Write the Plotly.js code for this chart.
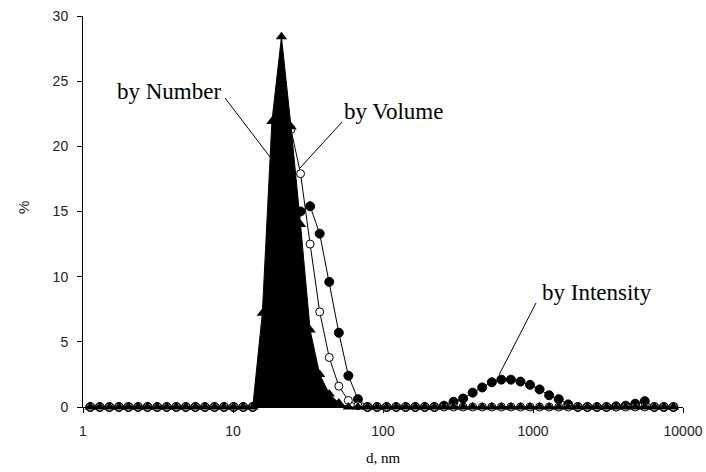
<!DOCTYPE html>
<html>
<head>
<meta charset="utf-8">
<script src="https://cdn.plot.ly/plotly-3.0.1.min.js"></script>
<style>html,body{margin:0;padding:0;background:#fff;}#chart{width:706px;height:472px;}</style>
</head>
<body>
<div id="chart"></div>
<script>
// Size classes (nm)
var sizes = [1.117, 1.294, 1.499, 1.736, 2.01, 2.328, 2.696, 3.122, 3.615, 4.187, 4.849, 5.615, 6.503, 7.531, 8.721, 10.1, 11.7, 13.54, 15.69, 18.17, 21.04, 24.36, 28.21, 32.67, 37.84, 43.82, 50.75, 58.77, 68.06, 78.82, 91.28, 105.7, 122.4, 141.8, 164.2, 190.1, 220.2, 255.0, 295.3, 342.0, 396.1, 458.7, 531.2, 615.1, 712.4, 825.0, 955.4, 1106, 1281, 1484, 1718, 1990, 2305, 2669, 3091, 3580, 4145, 4801, 5560, 6439, 7456, 8635];
// % by Intensity
var byIntensity = [0,0,0,0,0,0,0,0,0,0,0,0,0,0,0,0,0, 0, 1.0, 4.0, 8.0, 12.5, 15.0, 15.4, 13.3, 9.6, 5.7, 2.4, 0.6, 0, 0,0,0,0,0,0,0, 0.1, 0.4, 0.65, 1.1, 1.5, 1.9, 2.1, 2.1, 1.95, 1.7, 1.35, 0.9, 0.6, 0.2, 0, 0,0,0, 0.05, 0.1, 0.25, 0.45, 0, 0, 0];
// % by Volume
var byVolume = [0,0,0,0,0,0,0,0,0,0,0,0,0,0,0,0,0, 0, 3.0, 12.0, 21.5, 21.3, 17.9, 12.5, 7.3, 3.8, 1.6, 0.5, 0.1, 0, 0,0,0,0,0,0,0, 0,0,0,0,0,0,0,0,0,0,0,0,0,0,0, 0,0,0,0,0,0,0,0,0,0];
// % by Number
var byNumber = [0,0,0,0,0,0,0,0,0,0,0,0,0,0,0,0,0, 0, 7.2, 21.9, 28.4, 21.5, 14.0, 5.9, 2.5, 1.0, 0.3, 0, 0, 0, 0,0,0,0,0,0,0, 0,0,0,0,0,0,0,0,0,0,0,0,0,0,0, 0,0,0,0,0,0,0,0,0,0];
var xTicks = [1, 10, 100, 1000, 10000];
var xTickText = ['1', '10', '100', '1000', '10000'];
var yTicks = [0, 5, 10, 15, 20, 25, 30];

var traces = [
  {x: sizes, y: byIntensity, type: 'scatter', mode: 'lines+markers',
   line: {color: '#000', width: 1}, cliponaxis: false,
   marker: {symbol: 'circle', size: 9, color: '#000', line: {color: '#000', width: 1}}},
  {x: sizes, y: byVolume, type: 'scatter', mode: 'lines+markers',
   line: {color: '#000', width: 1}, cliponaxis: false,
   marker: {symbol: 'circle', size: 8, color: '#fff', line: {color: '#000', width: 1}}},
  {x: sizes, y: byNumber, type: 'scatter', mode: 'lines', fill: 'tozeroy',
   fillcolor: '#000', line: {color: '#000', width: 1}, cliponaxis: false, hoverinfo: 'skip'},
  {x: sizes, y: byNumber, type: 'scatter', mode: 'markers', cliponaxis: false,
   marker: {symbol: 'triangle-up', size: 10, color: '#000', line: {color: '#000', width: 0}}}
];

var serif = 'Liberation Serif, Times New Roman, serif';
var sans = 'Liberation Sans, Arial, sans-serif';

var layout = {
  width: 706, height: 472,
  margin: {l: 83, r: 23, t: 16, b: 65},
  paper_bgcolor: '#fff', plot_bgcolor: '#fff',
  showlegend: false,
  xaxis: {
    type: 'log', range: [0, 4], tickvals: xTicks, ticktext: xTickText,
    showgrid: false, zeroline: false, showline: true, linecolor: '#000', linewidth: 1,
    ticks: 'outside', ticklen: 5, tickwidth: 1, tickcolor: '#000',
    ticklabelstandoff: 6,
    tickfont: {family: sans, size: 14, color: '#222'}
  },
  yaxis: {
    range: [0, 30], tickvals: yTicks,
    showgrid: false, zeroline: false, showline: true, linecolor: '#000', linewidth: 1,
    ticks: 'outside', ticklen: 5, tickwidth: 1, tickcolor: '#000',
    ticklabelstandoff: 6,
    tickfont: {family: sans, size: 14, color: '#222'}
  },
  annotations: [
    {xref: 'paper', yref: 'paper', x: 0.5, y: -0.1304, text: 'd, nm', showarrow: false,
     xanchor: 'center', yanchor: 'middle', font: {family: serif, size: 15, color: '#000'}},
    {xref: 'paper', yref: 'paper', x: -0.0983, y: 0.509, text: '%', showarrow: false, textangle: -90,
     xanchor: 'center', yanchor: 'middle', font: {family: sans, size: 15, color: '#222'}},
    {xref: 'paper', yref: 'paper', x: 0.1425, y: 0.806, text: 'by Number', showarrow: false,
     xanchor: 'center', yanchor: 'middle', font: {family: serif, size: 23, color: '#000'}},
    {xref: 'paper', yref: 'paper', x: 0.517, y: 0.757, text: 'by Volume', showarrow: false,
     xanchor: 'center', yanchor: 'middle', font: {family: serif, size: 23, color: '#000'}},
    {xref: 'paper', yref: 'paper', x: 0.8567, y: 0.294, text: 'by Intensity', showarrow: false,
     xanchor: 'center', yanchor: 'middle', font: {family: serif, size: 23, color: '#000'}}
  ],
  shapes: [
    {type: 'line', xref: 'paper', yref: 'paper', x0: 0.2367, y0: 0.7903, x1: 0.3117, y1: 0.6394, line: {color: '#000', width: 1}},
    {type: 'line', xref: 'paper', yref: 'paper', x0: 0.4317, y0: 0.7289, x1: 0.3617, y1: 0.6113, line: {color: '#000', width: 1}},
    {type: 'line', xref: 'paper', yref: 'paper', x0: 0.755, y0: 0.266, x1: 0.6933, y1: 0.0818, line: {color: '#000', width: 1}}
  ]
};

Plotly.newPlot('chart', traces, layout, {displayModeBar: false, staticPlot: true});
</script>
</body>
</html>
